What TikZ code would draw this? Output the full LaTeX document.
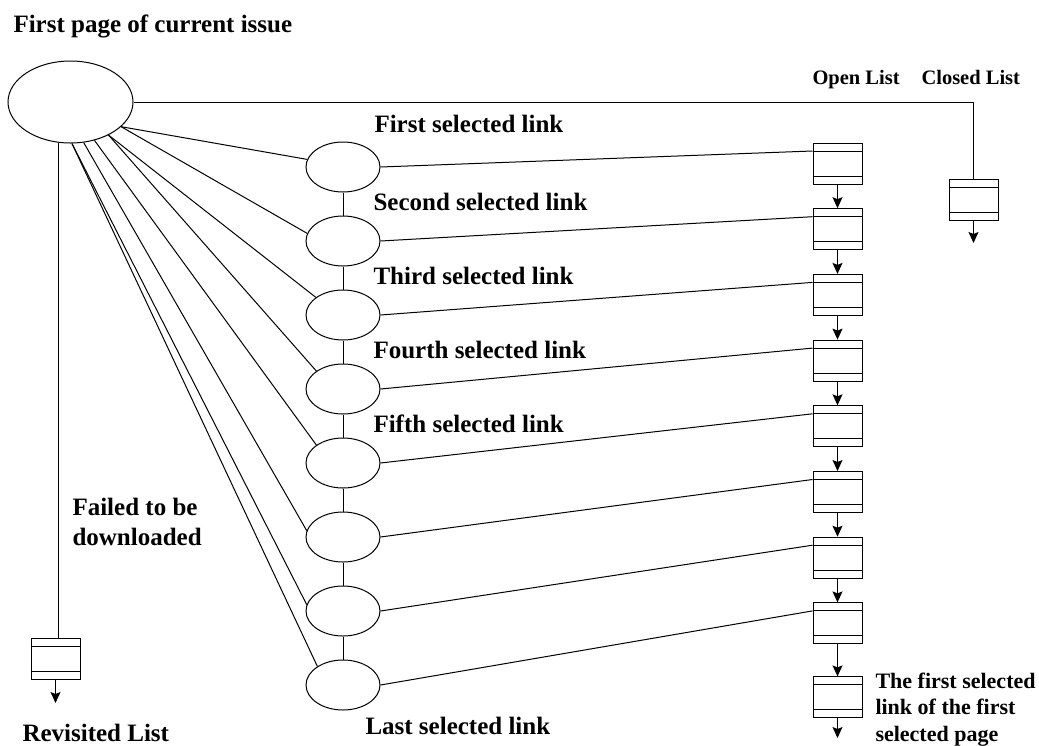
\documentclass[tikz,border=0pt]{standalone}
\usepackage{fontspec}
\setmainfont{Liberation Serif}
\usetikzlibrary{shapes.geometric, arrows.meta, positioning}
\tikzstyle{oval} = [ellipse, draw=black, minimum width=125pt, minimum height=82pt, inner sep=0pt]
\tikzstyle{linkoval} = [ellipse, draw=black, minimum width=74pt, minimum height=50pt, inner sep=0pt]
\tikzstyle{listbox} = [rectangle, draw=black, minimum width=49pt, minimum height=41pt, inner sep=0pt]
\tikzstyle{arrow} = [-{Stealth[length=11pt, width=10pt, inset=2pt]}]
\tikzstyle{caption} = [font=\fontsize{25}{30}\selectfont\bfseries, inner sep=0pt, anchor=base west]
\tikzstyle{listcaption} = [font=\fontsize{20.5}{24}\selectfont\bfseries, inner sep=0pt, anchor=base west]
\tikzstyle{notecaption} = [font=\fontsize{22}{26.5}\selectfont\bfseries, inner sep=0pt, anchor=north west, align=left]

\begin{document}
\begin{tikzpicture}[x=1pt, y=-1pt, node distance=0pt, line width=1pt]
    \useasboundingbox (0,0) rectangle (1039,745);

    \node (page) [oval] at (70.5,102) {};
    \node (title) [caption] at (13,32) {First page of current issue};

    % selected links
    \node (link1) [linkoval] at (343,167) {};
    \node (link2) [linkoval, below of=link1, yshift=-74pt] {};
    \node (link3) [linkoval, below of=link2, yshift=-74pt] {};
    \node (link4) [linkoval, below of=link3, yshift=-74pt] {};
    \node (link5) [linkoval, below of=link4, yshift=-74pt] {};
    \node (link6) [linkoval, below of=link5, yshift=-74pt] {};
    \node (link7) [linkoval, below of=link6, yshift=-74pt] {};
    \node (link8) [linkoval, below of=link7, yshift=-74pt] {};

    \node (lab1) [caption] at (374,132) {First selected link};
    \node (lab2) [caption] at (373,210) {Second selected link};
    \node (lab3) [caption] at (373,284) {Third selected link};
    \node (lab4) [caption] at (373,358) {Fourth selected link};
    \node (lab5) [caption] at (373,432) {Fifth selected link};
    \node (lab8) [caption] at (365,734) {Last selected link};

    % open list
    \node (openlab) [listcaption] at (812,84) {Open List};
    \node (open1) [listbox] at (837.5,163.5) {};
    \node (open2) [listbox, below of=open1, yshift=-65.7pt] {};
    \node (open3) [listbox, below of=open2, yshift=-65.7pt] {};
    \node (open4) [listbox, below of=open3, yshift=-65.7pt] {};
    \node (open5) [listbox, below of=open4, yshift=-65.7pt] {};
    \node (open6) [listbox, below of=open5, yshift=-65.7pt] {};
    \node (open7) [listbox, below of=open6, yshift=-65.7pt] {};
    \node (open8) [listbox, below of=open7, yshift=-65.7pt] {};
    \node (open9) [listbox, below of=open8, yshift=-74pt] {};
    \node (note) [notecaption] at (875,672) {The first selected\\link of the first\\selected page};
    \coordinate (openend) at (837.5,738);

    % closed list
    \node (closedlab) [listcaption] at (921,84) {Closed List};
    \node (closed) [listbox] at (973.5,200) {};
    \coordinate (closedend) at (973.5,243);

    % revisited list
    \node (revisit) [listbox] at (55.5,658.5) {};
    \node (failed) [caption, anchor=north west, align=left] at (72,498) {Failed to be\\downloaded};
    \node (revlab) [caption] at (22,741) {Revisited List};
    \coordinate (revisitend) at (55.5,703);

    \draw (page.east) -| (closed.north);
    \draw (page.-106) -- (page.-106 |- revisit.north);

    \draw (page.-26) -- (link1.168);
    \draw (page.-26) -- (link2.168);
    \draw (page.-41) -- (link3.147);
    \draw (page.-41) -- (link4.146);
    \draw (page.-58) -- (link5.146);
    \draw (page.-72) -- (link6.170);
    \draw (page.-88) -- (link7.170);
    \draw (page.-88) -- (link8.144);

    \draw (link1) -- (link2);
    \draw (link2) -- (link3);
    \draw (link3) -- (link4);
    \draw (link4) -- (link5);
    \draw (link5) -- (link6);
    \draw (link6) -- (link7);
    \draw (link7) -- (link8);

    \draw (link1.east) -- ([yshift=12.5pt]open1.west);
    \draw (link2.east) -- ([yshift=12.5pt]open2.west);
    \draw (link3.east) -- ([yshift=12.5pt]open3.west);
    \draw (link4.east) -- ([yshift=12.5pt]open4.west);
    \draw (link5.east) -- ([yshift=12.5pt]open5.west);
    \draw (link6.east) -- ([yshift=12.5pt]open6.west);
    \draw (link7.east) -- ([yshift=12.5pt]open7.west);
    \draw (link8.east) -- ([yshift=12.5pt]open8.west);

    \draw [arrow] (open1) -- (open2);
    \draw [arrow] (open2) -- (open3);
    \draw [arrow] (open3) -- (open4);
    \draw [arrow] (open4) -- (open5);
    \draw [arrow] (open5) -- (open6);
    \draw [arrow] (open6) -- (open7);
    \draw [arrow] (open7) -- (open8);
    \draw [arrow] (open8) -- (open9);
    \draw [arrow] (open9) -- (openend);
    \draw [arrow] (closed) -- (closedend);
    \draw [arrow] (revisit) -- (revisitend);

    % inner lines of the list boxes
    \draw ([yshift=12.5pt]open1.west) -- ([yshift=12.5pt]open1.east);
    \draw ([yshift=-12.5pt]open1.west) -- ([yshift=-12.5pt]open1.east);
    \draw ([yshift=12.5pt]open2.west) -- ([yshift=12.5pt]open2.east);
    \draw ([yshift=-12.5pt]open2.west) -- ([yshift=-12.5pt]open2.east);
    \draw ([yshift=12.5pt]open3.west) -- ([yshift=12.5pt]open3.east);
    \draw ([yshift=-12.5pt]open3.west) -- ([yshift=-12.5pt]open3.east);
    \draw ([yshift=12.5pt]open4.west) -- ([yshift=12.5pt]open4.east);
    \draw ([yshift=-12.5pt]open4.west) -- ([yshift=-12.5pt]open4.east);
    \draw ([yshift=12.5pt]open5.west) -- ([yshift=12.5pt]open5.east);
    \draw ([yshift=-12.5pt]open5.west) -- ([yshift=-12.5pt]open5.east);
    \draw ([yshift=12.5pt]open6.west) -- ([yshift=12.5pt]open6.east);
    \draw ([yshift=-12.5pt]open6.west) -- ([yshift=-12.5pt]open6.east);
    \draw ([yshift=12.5pt]open7.west) -- ([yshift=12.5pt]open7.east);
    \draw ([yshift=-12.5pt]open7.west) -- ([yshift=-12.5pt]open7.east);
    \draw ([yshift=12.5pt]open8.west) -- ([yshift=12.5pt]open8.east);
    \draw ([yshift=-12.5pt]open8.west) -- ([yshift=-12.5pt]open8.east);
    \draw ([yshift=12.5pt]open9.west) -- ([yshift=12.5pt]open9.east);
    \draw ([yshift=-12.5pt]open9.west) -- ([yshift=-12.5pt]open9.east);
    \draw ([yshift=12.5pt]closed.west) -- ([yshift=12.5pt]closed.east);
    \draw ([yshift=-12.5pt]closed.west) -- ([yshift=-12.5pt]closed.east);
    \draw ([yshift=12.5pt]revisit.west) -- ([yshift=12.5pt]revisit.east);
    \draw ([yshift=-12.5pt]revisit.west) -- ([yshift=-12.5pt]revisit.east);

\end{tikzpicture}
\end{document}
